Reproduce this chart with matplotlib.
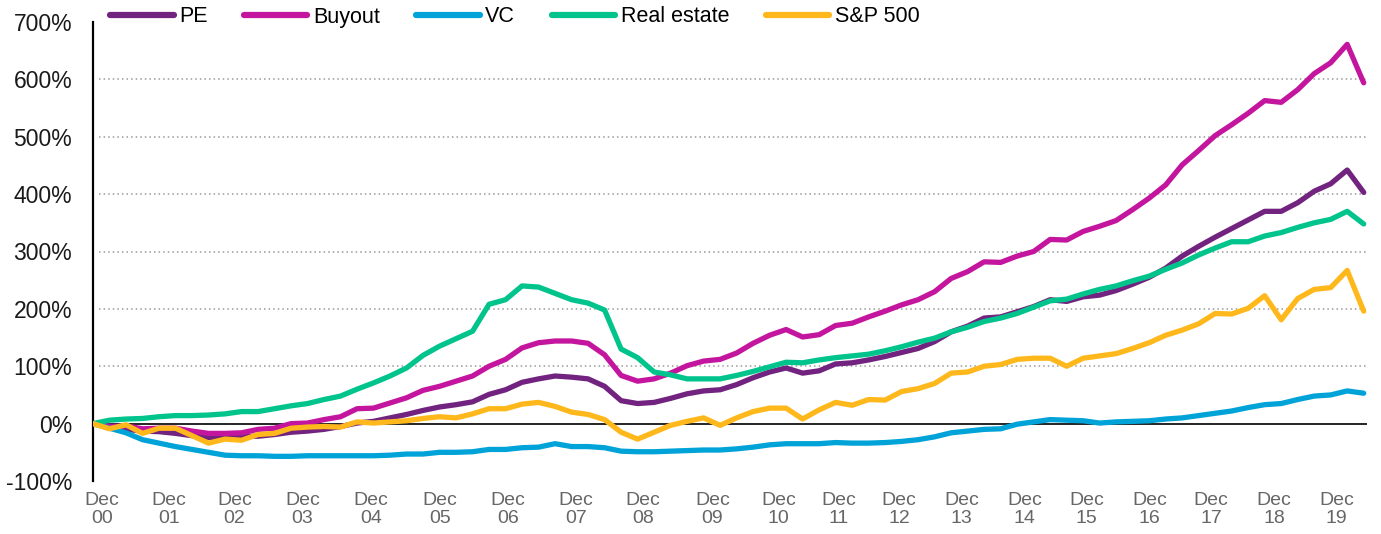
import numpy as np
import matplotlib.pyplot as plt

plt.rcParams['font.family'] = ['Liberation Sans', 'DejaVu Sans']

# quarterly cumulative returns (%), Dec 00 .. Mar 20
pe = [0, -4, -10, -13, -14, -17, -21, -24, -24, -22, -22, -19, -15, -13, -10, -5,
      1, 4, 10, 16, 23, 29, 33, 38, 51, 59, 72, 78, 83, 81, 78,
      65, 40, 35, 37, 44, 52, 57, 59, 68, 80, 90, 97, 88, 92, 104,
      106, 111, 117, 124, 131, 143, 160, 170, 184, 186, 195, 204, 216, 213, 221,
      224, 232, 243, 255, 271, 292, 309, 325, 340, 355, 370, 370, 385, 405, 418, 442, 403]
buyout = [0, -5, -4, -9, -8, -8, -13, -17, -17, -16, -10, -8, 0, 1, 7, 12,
          26, 27, 36, 45, 58, 65, 74, 83, 100, 112, 132, 141, 144, 144, 140,
          120, 84, 74, 78, 88, 101, 109, 112, 123, 140, 154, 164, 151, 155, 171,
          175, 186, 196, 207, 216, 230, 253, 265, 282, 281, 292, 300, 321, 320, 335,
          344, 354, 373, 393, 416, 451, 476, 502, 521, 541, 563, 560, 582, 610, 629, 661, 594]
vc = [0, -8, -16, -28, -34, -40, -45, -50, -55, -56, -56, -57, -57, -56, -56, -56,
      -56, -56, -55, -53, -53, -50, -50, -49, -45, -45, -42, -41, -35, -40, -40,
      -42, -48, -49, -49, -48, -47, -46, -46, -44, -41, -37, -35, -35, -35, -33,
      -34, -34, -33, -31, -28, -23, -16, -13, -10, -9, -1, 3, 7, 6, 5,
      1, 3, 4, 5, 8, 10, 14, 18, 22, 28, 33, 35, 42, 48, 50, 57, 53]
real_estate = [0, 6, 8, 9, 12, 14, 14, 15, 17, 21, 21, 26, 31, 35, 42, 48,
               60, 71, 83, 97, 119, 135, 148, 161, 208, 216, 240, 238, 227, 216, 210,
               198, 130, 115, 90, 85, 78, 78, 78, 84, 91, 99, 107, 106, 111, 115,
               118, 121, 127, 134, 142, 149, 160, 168, 178, 184, 192, 203, 214, 217, 226,
               234, 240, 249, 257, 269, 280, 294, 306, 317, 317, 327, 333, 342, 350, 356, 370, 348]
sp500 = [0, -9, -2, -17, -8, -8, -21, -34, -27, -29, -19, -17, -8, -6, -5, -6,
         3, 1, 3, 5, 9, 12, 10, 17, 26, 26, 34, 37, 30, 20, 16,
         7, -15, -27, -15, -3, 4, 10, -3, 10, 21, 27, 27, 8, 24, 37,
         32, 42, 41, 56, 61, 70, 88, 90, 100, 103, 112, 114, 114, 100, 114,
         118, 122, 131, 141, 154, 163, 174, 192, 191, 201, 223, 181, 218, 234, 237, 267, 196]

series = [
    ("PE", pe, "#72237F"),
    ("Buyout", buyout, "#C4159E"),
    ("VC", vc, "#00A3D8"),
    ("Real estate", real_estate, "#00C48C"),
    ("S&P 500", sp500, "#FFB81C"),
]

# year labels (placed as in the original, in quarter-index units)
years = ["00", "01", "02", "03", "04", "05", "06", "07", "08", "09",
         "10", "11", "12", "13", "14", "15", "16", "17", "18", "19"]
year_pos = [0.55, 4.59, 8.58, 12.70, 16.84, 21.01, 25.14, 29.26, 33.33, 37.53,
            41.56, 45.20, 48.85, 52.62, 56.44, 60.21, 64.01, 67.76, 71.56, 75.35]

fig = plt.figure(figsize=(13.81, 5.34), dpi=100)
ax = fig.add_axes([93 / 1381, 1 - 481 / 534, 1274 / 1381, 459 / 534])

x = np.arange(len(pe))
for name, vals, color in series:
    ax.plot(x, vals, color=color, lw=3.8, label=name,
            solid_capstyle="round", solid_joinstyle="round", zorder=3)

ax.set_xlim(0, 77.2)
ax.set_ylim(-100, 700)

# dotted grid and solid zero line
for v in range(100, 700, 100):
    ax.axhline(v, xmin=0.005, color="#9a9a9a", lw=1.1, linestyle=(0, (1, 2)), zorder=1)
ax.axhline(0, color="black", lw=1.2, zorder=2)

ax.set_yticks(range(-100, 800, 100))
ax.set_yticklabels([f"{v}%" for v in range(-100, 800, 100)], fontsize=16.5, color="#1a1a1a")
ax.set_xticks(year_pos)
ax.set_xticklabels([f"Dec\n{y}" for y in years], fontsize=14, color="#666666",
                   linespacing=1.05)
ax.tick_params(axis="y", length=0, pad=15)
ax.tick_params(axis="x", length=0, pad=8)

for s in ["top", "right", "bottom"]:
    ax.spines[s].set_visible(False)
ax.spines["left"].set_linewidth(1.6)

leg = fig.legend(loc="center left", bbox_to_anchor=(110 / 1381, 1 - 17 / 534),
                 ncol=5, frameon=False, fontsize=15.5, handlelength=2.95,
                 handletextpad=0.25, columnspacing=1.7, borderpad=0,
                 borderaxespad=0)
for line in leg.get_lines():
    line.set_linewidth(4.5)
    line.set_solid_capstyle("round")

fig.savefig("out.png", dpi=100)
